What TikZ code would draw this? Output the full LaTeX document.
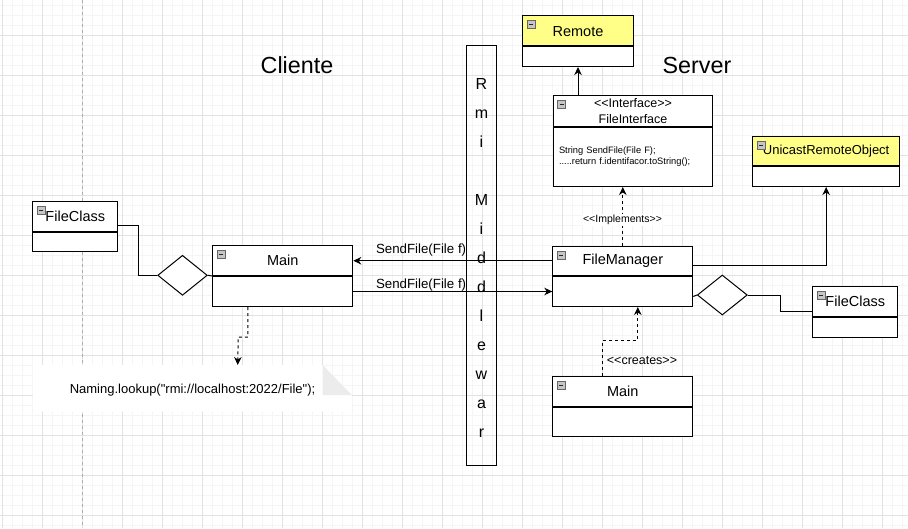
\documentclass[tikz,border=0pt]{standalone}
\usepackage{fontspec}
\setmainfont{Liberation Sans}[Ligatures=TeXOff]
\usetikzlibrary{arrows.meta,shapes.geometric,calc}
\definecolor{yel}{RGB}{255,255,136}
\definecolor{gmaj}{RGB}{226,226,226}
\definecolor{gmin}{RGB}{245,245,245}
\definecolor{foldc}{RGB}{236,236,236}
\newcommand\fsz[1]{\fontsize{#1}{#1}\selectfont}
\newcommand\minusicon[1]{%
  \path (#1) ++(5,5.5) coordinate (mi);
  \draw[draw=gray!80!black, fill=gray!45, line width=0.6pt] (mi) rectangle ++(8,8);
  \draw[line width=0.9pt, black!85] ($(mi)+(2,4)$) -- ($(mi)+(6,4)$);}
\begin{document}
\begin{tikzpicture}[x=1pt,y=-1pt,
  hdr/.style={draw, line width=1pt, fill=white, minimum height=30pt, inner sep=0pt, anchor=north west, font=\fsz{14.5}},
  bdy/.style={draw, line width=1pt, fill=white, inner sep=0pt, anchor=north west},
  arr/.style={line width=1pt, -{Stealth[length=8pt,width=7.5pt,inset=2.5pt]}},
  conn/.style={line width=1pt},
  dsh/.style={dash pattern=on 3pt off 3pt},
  lbl/.style={inner sep=0pt, anchor=west}]
\useasboundingbox (0,0) rectangle (908,528);
\fill[white] (0,0) rectangle (908,528);
% grid
\foreach \x in {2.7,12.7,...,908} \draw[gmin, line width=0.6pt] (\x,0) -- (\x,528);
\foreach \y in {5,15,...,528} \draw[gmin, line width=0.6pt] (0,\y) -- (908,\y);
\foreach \x in {2.7,42.7,...,908} \draw[gmaj, line width=0.9pt] (\x,0) -- (\x,528);
\foreach \y in {35,75,...,528} \draw[gmaj, line width=0.9pt] (0,\y) -- (908,\y);
\draw[gray!65, line width=0.9pt, dsh] (82.7,0) -- (82.7,528);

% titles
\node[font=\fsz{23.3}] (cliente) at (297,65) {Cliente};
\node[font=\fsz{23.3}] (server) at (697,65) {Server};

% Rmi middleware column
\node[draw, line width=1pt, minimum width=29.6pt, minimum height=419.6pt, inner sep=0pt] (rmi) at (481.5,255.5) {};
\node[font=\fontsize{16}{29}\selectfont, align=center, inner sep=0pt] (rmiT) at (481.5,257.8)
  {R\\m\\i\\[29pt]M\\i\\d\\d\\l\\e\\w\\a\\r};

% Remote
\node[hdr, fill=yel, minimum width=110.4pt] (remoteH) at (522.3,15) {};
\node[bdy, minimum width=110.4pt, minimum height=20pt] (remoteB) at (remoteH.south west) {};
\node[font=\fsz{14.5}] (remoteT) at ($(remoteH.center)+(0,1.3)$) {Remote};
\minusicon{remoteH.north west}

% FileInterface
\node[hdr, minimum width=159.6pt, minimum height=30.7pt, align=center, font=\fontsize{12.5}{16}\selectfont] (fiH) at (552.7,95) {<<Interface>>\\FileInterface};
\node[bdy, minimum width=159.6pt, minimum height=59.3pt, text width=148pt, inner xsep=5.8pt, align=left, font=\fontsize{9.3}{11.4}\selectfont] (fiB) at (fiH.south west)
  {String SendFile(File F);\\.....return f.identifacor.toString();};
\minusicon{fiH.north west}

% UnicastRemoteObject
\node[hdr, fill=yel, minimum width=146.7pt, minimum height=29.3pt, font=\fsz{13}] (uroH) at (752.3,135.7) {UnicastRemoteObject};
\node[bdy, minimum width=146.7pt, minimum height=20pt] (uroB) at (uroH.south west) {};
\minusicon{uroH.north west}

% FileClass left
\node[hdr, minimum width=85pt] (fcLH) at (32.3,200.7) {FileClass};
\node[bdy, minimum width=85pt, minimum height=19.3pt] (fcLB) at (fcLH.south west) {};
\minusicon{fcLH.north west}

% Main left
\node[hdr, minimum width=140pt] (mainH) at (212.3,245) {Main};
\node[bdy, minimum width=140pt, minimum height=30pt] (mainB) at (mainH.south west) {};
\minusicon{mainH.north west}

% FileManager
\node[hdr, minimum width=140pt, minimum height=29.5pt] (fmH) at (552.3,245.5) {FileManager};
\node[bdy, minimum width=140pt, minimum height=30pt] (fmB) at (fmH.south west) {};
\minusicon{fmH.north west}

% FileClass right
\node[hdr, minimum width=85pt] (fcRH) at (812.3,285.7) {FileClass};
\node[bdy, minimum width=85pt, minimum height=20pt] (fcRB) at (fcRH.south west) {};
\minusicon{fcRH.north west}

% Main right (bottom)
\node[hdr, minimum width=140pt] (mrH) at (552.3,375.7) {Main};
\node[bdy, minimum width=140pt, minimum height=29.3pt] (mrB) at (mrH.south west) {};
\minusicon{mrH.north west}

% diamonds
\node[diamond, draw, line width=1pt, fill=white, minimum width=49.6pt, minimum height=40pt, inner sep=0pt] (dL) at (182.5,275.3) {};
\node[diamond, draw, line width=1pt, fill=white, minimum width=50pt, minimum height=40pt, inner sep=0pt] (dR) at (722.3,295) {};

% note
\fill[white] (33,365) -- (322.7,365) -- (351.7,395) -- (351.7,411.7) -- (33,411.7) -- cycle;
\fill[foldc] (322.7,365) -- (351.7,395) -- (322.7,395) -- cycle;
\node[minimum width=318.7pt, minimum height=46.7pt, inner sep=0pt, anchor=north west, font=\fsz{13}] (note) at (33,366.5)
  {Naming.lookup("rmi://localhost:2022/File");};

% connectors
\draw[arr] (fiH.north -| remoteB.south) -- (remoteB.south);
\draw[arr, dsh] (fmH.north) -- (fmH.north |- fiB.south);
\node[font=\fsz{10.5}, fill=white, inner sep=1pt] (implL) at (622.5,220) {<<Implements>>};
\draw[arr] ($(fmH.east)+(0,4.6)$) -| (uroB.south);
\draw[arr] (fmH.west) -- (fmH.west -| mainH.east);
\draw[arr] (mainB.east) -- (mainB.east -| fmB.west);
\node[lbl, font=\fsz{13.3}] (sf1) at (375.8,250) {SendFile(File f)};
\node[lbl, font=\fsz{13.3}] (sf2) at (375.8,285) {SendFile(File f)};
\draw[conn] ($(fcLH.east)+(0,9.3)$) -- ++(20,0) |- (dL.west);
\draw[conn] (dL.east) -- (mainH.south west);
\draw[conn] ($(fmB.east)+(0,5)$) -- (dR.west);
\draw[conn] (dR.east) -- ++(32.7,0) |- ($(fcRH.west)+(0,10)$);
\draw[arr, dsh] ($(mrH.north)+(-20,0)$) -- ++(0,-35.7) -| ($(fmB.south)+(15,0)$);
\node[lbl, font=\fsz{12.5}] (crL) at (606.7,361) {<<creates>>};
\draw[arr, dsh] ($(mainB.south)+(-35,0)$) -- ++(0,30) -- ++(-9.6,0) -- (237.7,365);
\end{tikzpicture}
\end{document}
